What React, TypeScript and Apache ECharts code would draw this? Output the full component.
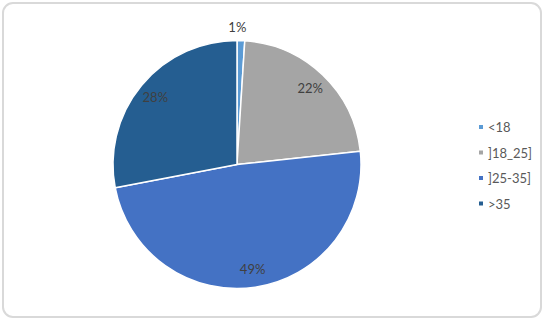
import React, { useEffect, useRef } from "react";
import * as echarts from "echarts";

const categories = ["<18", "]18_25]", "]25-35]", ">35"];
const shares = [1.0, 22.3, 48.7, 28.0];
const colors = ["#5B9BD5", "#A5A5A5", "#4472C4", "#255E91"];

export default function App() {
  const ref = useRef<HTMLDivElement>(null);
  useEffect(() => {
    const chart = echarts.init(ref.current as HTMLDivElement, null, { renderer: "svg" });
    const center = [237, 164.5];
    const base = categories.map((name, i) => ({ name, value: shares[i] }));
    const fmt = (p: any) => Math.round(p.percent) + "%";
    const labelStyle = { color: "#404040", fontSize: 13, fontFamily: "Lato" };
    chart.setOption({
      animation: false,
      backgroundColor: "#ffffff",
      graphic: [
        {
          type: "rect",
          silent: true,
          z: 100,
          shape: { x: 3, y: 3, width: 538, height: 314, r: 10 },
          style: { fill: "none", stroke: "#d9d9d9", lineWidth: 2 },
        },
      ],
      legend: {
        orient: "vertical",
        left: 472,
        top: 115.5,
        itemWidth: 6,
        itemHeight: 6,
        itemGap: 12.5,
        icon: "rect",
        data: categories,
        textStyle: { fontFamily: "Lato", fontSize: 13, color: "#595959", lineHeight: 13, padding: [0, 0, 0, -1] },
      },
      series: [
        {
          type: "pie",
          center,
          radius: 124,
          startAngle: 90,
          clockwise: true,
          silent: true,
          data: base.map((d, i) => ({ ...d, itemStyle: { color: colors[i] } })),
          label: { show: false },
          labelLine: { show: false },
          itemStyle: { borderColor: "#ffffff", borderWidth: 1.5 },
        },
        {
          type: "pie",
          center,
          radius: [82, 124],
          startAngle: 90,
          clockwise: true,
          silent: true,
          legendHoverLink: false,
          data: base.map((d, i) => ({
            ...d,
            itemStyle: { color: "rgba(0,0,0,0)" },
            label: { show: i > 0 },
          })),
          label: { show: true, position: "inside", formatter: fmt, ...labelStyle },
          labelLine: { show: false },
        },
        {
          type: "pie",
          center,
          radius: [127, 143],
          startAngle: 90,
          clockwise: true,
          silent: true,
          legendHoverLink: false,
          data: base.map((d, i) => ({
            ...d,
            itemStyle: { color: "rgba(0,0,0,0)" },
            label: { show: i === 0 },
          })),
          label: { show: true, position: "inside", formatter: fmt, ...labelStyle },
          labelLayout: { dx: -4 },
          labelLine: { show: false },
        },
      ],
    });
    return () => chart.dispose();
  }, []);
  return (
    <div
      ref={ref}
      style={{ position: "fixed", left: 0, top: 0, width: 543, height: 319 }}
    />
  );
}
